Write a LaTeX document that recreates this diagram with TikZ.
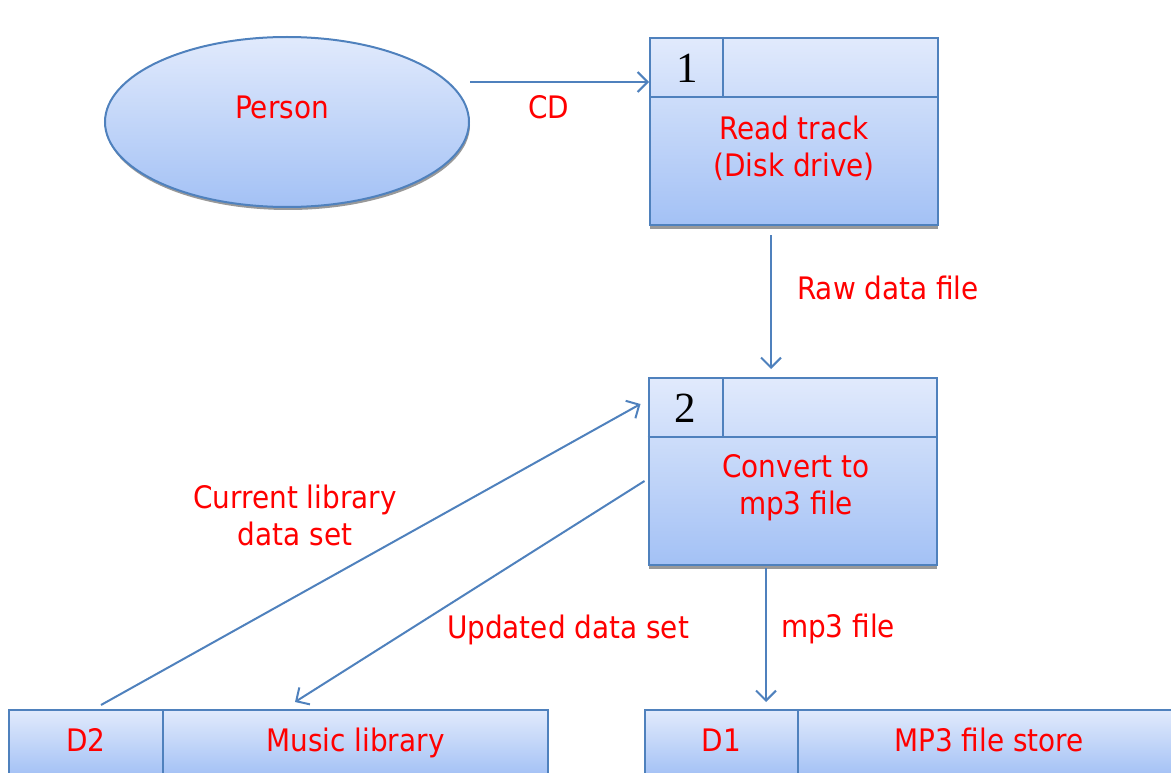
\documentclass[tikz,border=0pt]{standalone}
\usepackage{fontspec}
\setmainfont{DejaVu Sans}[FakeStretch=0.9]
\newfontfamily\numfont{Liberation Serif}
\usetikzlibrary{shapes.geometric,shadows,arrows.meta}

\definecolor{dfdline}{RGB}{79,129,189}
\definecolor{dfdtop}{RGB}{225,234,252}
\definecolor{dfdbot}{RGB}{163,193,245}
\definecolor{dfdtext}{RGB}{255,0,0}

\begin{document}
\begin{tikzpicture}[
            x=1pt, y=-1pt,
            every node/.style={font=\fontsize{31}{37}\selectfont, text=dfdtext, align=center},
            fillbox/.style={draw=dfdline, line width=2pt, top color=dfdtop, bottom color=dfdbot, inner sep=0pt},
            entity/.style={fillbox, ellipse, minimum width=364pt, minimum height=170pt,
              drop shadow={shadow xshift=1pt, shadow yshift=-3pt, fill=gray!80, opacity=1}},
            process/.style={fillbox, rectangle, minimum width=288pt, minimum height=187pt,
              drop shadow={shadow xshift=0pt, shadow yshift=-4pt, fill=gray!80, opacity=1}},
            storecell/.style={fillbox, rectangle, minimum height=66pt, text height=23pt, text depth=7pt},
            procnum/.style={font=\fontsize{43}{43}\selectfont\numfont, text=black},
            divider/.style={draw=dfdline, line width=2pt},
            flow/.style={draw=dfdline, line width=2pt, -{Straight Barb[length=10pt,width=20pt,line width=2pt]}}
        ]
        \useasboundingbox (0,0) rectangle (1171,773);
        \clip (0,0) rectangle (1171,773);

        % External entity
        \node[entity] (person) at (287,122) {};
        \node (persontxt) at (282,107) {Person};

        % Processes
        \node[process] (p1) at (794,131.5) {};
        \draw[divider] ([yshift=-60pt]p1.north west) -- ([yshift=-60pt]p1.north east);
        \draw[divider] ([xshift=74pt]p1.north west) -- ([xshift=74pt,yshift=-60pt]p1.north west);
        \node[procnum] (p1num) at (687,68) {1};
        \node (p1txt) at (794,148) {Read track\\(Disk drive)};

        \node[process] (p2) at (792.5,471.5) {};
        \draw[divider] ([yshift=-60pt]p2.north west) -- ([yshift=-60pt]p2.north east);
        \draw[divider] ([xshift=75pt]p2.north west) -- ([xshift=75pt,yshift=-60pt]p2.north west);
        \node[procnum] (p2num) at (685,408) {2};
        \node (p2txt) at (796,488) {Convert to\\mp3 file};

        % Data stores
        \node[storecell, minimum width=154pt] (d2id) at (86,743) {D2};
        \node[storecell, minimum width=385pt] (d2name) at (355.5,743) {Music library};
        \node[storecell, minimum width=153pt] (d1id) at (721.5,743) {D1};
        \node[storecell, minimum width=382pt] (d1name) at (989,743) {MP3 file store};

        % Data flows
        \draw[flow] ([yshift=40pt]person.east) -- ([yshift=49.5pt]p1.west);
        \draw[flow] ([xshift=-23pt,yshift=-9pt]p1.south) -- ([xshift=-21.5pt,yshift=8pt]p2.north);
        \draw[flow] ([xshift=15pt,yshift=4pt]d2id.north) -- ([xshift=-7pt,yshift=67.5pt]p2.west);
        \draw[flow] ([xshift=-3pt,yshift=-9.5pt]p2.west) -- ([xshift=-60.5pt,yshift=7pt]d2name.north);
        \draw[flow] ([xshift=-26.5pt,yshift=-2pt]p2.south) -- ([xshift=44.5pt,yshift=7pt]d1id.north);

        % Flow labels
        \node (lcd) at (549,107) {CD};
        \node (lraw) at (888,288) {Raw data file};
        \node (lcur) at (295,515) {Current library\\data set};
        \node (lupd) at (568,630) {Updated data set};
        \node (lmp3) at (838,629) {mp3 file};

        \end{tikzpicture}
\end{document}
